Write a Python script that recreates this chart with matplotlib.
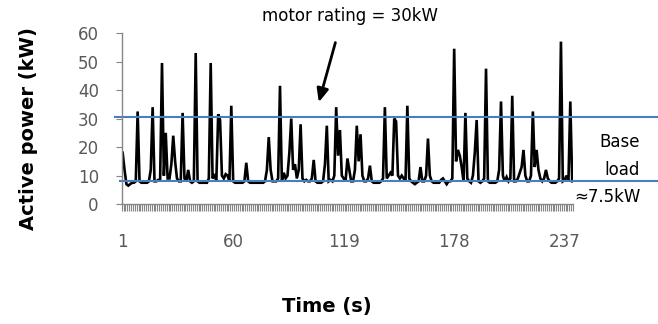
import numpy as np
import matplotlib
matplotlib.use("Agg")
import matplotlib.pyplot as plt
from matplotlib.ticker import FixedLocator

# ---- data ----
power_kw = [
    18, 12, 7, 6.5, 7, 7.5, 7.5, 8, 32.5, 8,            # 1-10
    7.5, 7.5, 7.5, 7.5, 8, 12, 34, 8, 8, 8.5,           # 11-20
    8.5, 49.5, 10, 25, 9, 9, 14, 24, 15, 9,             # 21-30
    8, 8, 32, 9, 8, 12, 8, 7.5, 8, 53,                  # 31-40
    8, 7.5, 7.5, 7.5, 7.5, 7.5, 9, 49.5, 9, 10.5,       # 41-50
    8, 31.5, 29.5, 10, 9, 10.5, 10, 8, 34.5, 8,         # 51-60
    7.5, 7.5, 7.5, 7.5, 7.5, 8, 14.5, 8, 7.5, 7.5,      # 61-70
    7.5, 7.5, 7.5, 7.5, 7.5, 7.5, 8, 12, 23.5, 12,      # 71-80
    8, 8, 8, 9, 41.5, 8, 11, 9, 10, 18,                 # 81-90
    30, 12, 14, 9, 12, 28, 9, 8, 8.5, 8,                # 91-100
    8, 9, 15.5, 8, 7.5, 7.5, 7.5, 8, 14, 27.5,          # 101-110
    8, 8.5, 8, 10, 34, 17, 26, 10, 9, 8,                # 111-120
    16, 12, 8, 8, 12, 27.5, 15, 24.5, 10, 8,            # 121-130
    8, 9, 13.5, 8, 7.5, 7.5, 7.5, 7.5, 8, 9,            # 131-140
    34, 9, 10, 11, 10, 30, 29, 10, 9, 10,               # 141-150
    9, 8, 34.5, 9, 8, 7.5, 7, 7.5, 8, 13,               # 151-160
    8, 8, 10, 23, 10, 8, 7.5, 7.5, 7.5, 7.5,            # 161-170
    8.5, 9, 8, 7, 8, 8, 9, 54.5, 15, 19,                # 171-180
    17, 13, 8, 32, 9, 8, 7.5, 10, 18, 29.5,             # 181-190
    8, 7.5, 8, 9, 47.5, 8, 7.5, 7.5, 7.5, 7.5,          # 191-200
    8, 12, 36, 10, 8, 9.5, 8, 9, 38, 8,                 # 201-210
    8, 9, 11, 13, 19, 10, 8, 8, 10, 32.5,               # 211-220
    13, 19, 12, 9, 8, 9, 12, 9, 8, 7.5,                 # 221-230
    7.5, 7.5, 8, 9, 57, 8, 8.5, 10, 8, 36,              # 231-240
    8,                                                  # 241
]
time_s = np.arange(1, len(power_kw) + 1)
tick_labels = [1, 60, 119, 178, 237]
motor_rating = 30.5
base_load = 8.1

fig = plt.figure(figsize=(6.58, 3.24), dpi=100)
ax = fig.add_axes([0.185, 0.370, 0.686, 0.528])

ax.plot(time_s, power_kw, color="black", lw=1.9, solid_joinstyle="miter")

# horizontal reference lines, running past the plot to the right edge
ytr = ax.get_yaxis_transform()
ax.plot([-0.015, 1.2], [motor_rating, motor_rating], color="#4a7ebb",
        lw=1.5, transform=ytr, clip_on=False)
ax.plot([-0.003, 1.2], [base_load, base_load], color="#4a7ebb",
        lw=1.5, transform=ytr, clip_on=False)

ax.set_xlim(0.5, len(power_kw) + 0.5)
ax.set_ylim(0, 60)
ax.set_yticks(range(0, 61, 10))
ax.set_xticks(tick_labels)
ax.xaxis.set_minor_locator(FixedLocator(np.arange(0.5, len(power_kw) + 1, 1)))

for s in ["top", "right"]:
    ax.spines[s].set_visible(False)
for s in ["left", "bottom"]:
    ax.spines[s].set_color("#868686")
    ax.spines[s].set_linewidth(1.0)

ax.tick_params(axis="x", which="major", length=0, pad=21,
               labelsize=12, labelcolor="#595959")
ax.tick_params(axis="x", which="minor", length=5, width=0.8,
               color="#868686", direction="out")
ax.tick_params(axis="y", length=4.5, width=0.8, color="#868686",
               pad=12, labelsize=12, labelcolor="#595959")

# axis titles
fig.text(0.044, 0.602, "Active power (kW)", fontsize=14, fontweight="bold",
         rotation=90, ha="center", va="center")
fig.text(0.497, 0.055, "Time (s)", fontsize=14, fontweight="bold",
         ha="center", va="center")

# annotations
fig.text(0.532, 0.950, "motor rating = 30kW", fontsize=12,
         ha="center", va="center")
ax.annotate("", xy=(0.435, 0.58), xytext=(0.475, 0.96),
            xycoords="axes fraction",
            arrowprops=dict(arrowstyle="-|>,head_width=0.35,head_length=0.8",
                            color="black", lw=2))
fig.text(0.973, 0.519, "Base\nload", fontsize=12, ha="right", va="center",
         linespacing=1.7)
fig.text(0.973, 0.392, "\u22487.5kW", fontsize=12, ha="right", va="center")

fig.savefig("out.png", dpi=100)
